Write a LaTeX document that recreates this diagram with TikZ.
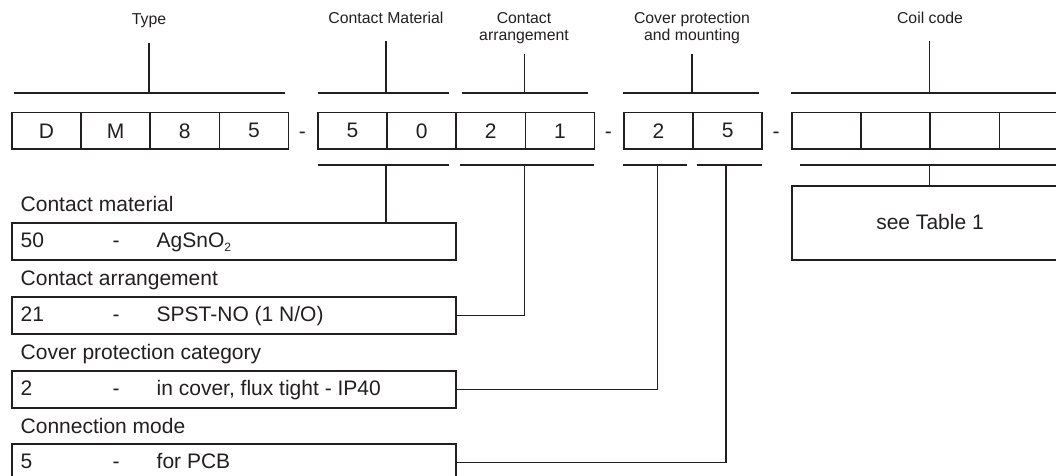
\documentclass[tikz,border=0pt]{standalone}
\usepackage{fontspec}
\setmainfont{Liberation Sans}
\definecolor{ink}{RGB}{35,31,32}
\begin{document}
\begin{tikzpicture}[x=1pt,y=-1pt,
  ln/.style={draw=ink, line width=1.6pt},
  cell/.style={ln, minimum width=69.2pt, minimum height=36.6pt, inner sep=0pt, anchor=north west, text=ink, font=\fontsize{21}{25}\selectfont},
  dsh/.style={anchor=base, inner sep=0pt, text=ink, font=\fontsize{21}{25}\selectfont},
  toplbl/.style={anchor=base, inner sep=0pt, align=center, text=ink, font=\fontsize{15.8}{17.5}\selectfont},
  lbl/.style={anchor=base west, inner sep=0pt, text=ink, font=\fontsize{21}{25}\selectfont},
  lbox/.style={ln, minimum width=444pt, minimum height=37pt, inner sep=0pt, anchor=north west},
  tbox/.style={ln, minimum width=280pt, minimum height=74pt, inner sep=0pt, anchor=north west},
]
\useasboundingbox (0,0) rectangle (1056,475);
\clip (0,0) rectangle (1056,475);
% ---- top code row
\node[cell] (c1) at (11,111.7) {D};
\node[cell] (c2) at (80.2,111.7) {M};
\node[cell] (c3) at (149.4,111.7) {8};
\node[cell] (c4) at (218.6,111.7) {5};
\node[dsh] (d1) at (302.4,138.3) {-};
\node[cell] (m1) at (317,111.7) {5};
\node[cell] (m2) at (386.2,111.7) {0};
\node[cell] (m3) at (455.4,111.7) {2};
\node[cell] (m4) at (524.6,111.7) {1};
\node[dsh] (d2) at (608.4,138.3) {-};
\node[cell] (p1) at (623,111.7) {2};
\node[cell] (p2) at (692.2,111.7) {5};
\node[dsh] (d3) at (776.2,138.3) {-};
\node[cell] (k1) at (791,111.7) {};
\node[cell] (k2) at (860.2,111.7) {};
\node[cell] (k3) at (929.4,111.7) {};
\node[cell] (k4) at (998.6,111.7) {};
% ---- top labels
\node[toplbl] (tType) at (149,24) {Type};
\node[toplbl] (tCM) at (386,23) {Contact Material};
\node[toplbl] (tCA) at (524,40.5) {Contact\\arrangement};
\node[toplbl] (tCP) at (692,40.5) {Cover protection\\and mounting};
\node[toplbl] (tCoil) at (930,23) {Coil code};
% ---- top brackets
\coordinate (sType) at (149,43);
\coordinate (sCM) at (386.2,41);
\coordinate (sCA) at (524.6,54);
\coordinate (sCP) at (692.2,54);
\coordinate (sCoil) at (929.4,41);
\draw[ln] (14,93) -- (285,93);
\draw[ln] (sType) -- (sType |- 0,93);
\draw[ln] (318,93) -- (449,93);
\draw[ln] (sCM) -- (sCM |- 0,93);
\draw[ln] (461.7,93) -- (588.3,93);
\draw[ln] (sCA) -- (sCA |- 0,93);
\draw[ln] (622.7,93) -- (759.3,93);
\draw[ln] (sCP) -- (sCP |- 0,93);
\draw[ln] (791,93) -- (1070,93);
\draw[ln] (sCoil) -- (sCoil |- 0,93);
% ---- bottom brackets
\coordinate (bCM) at (386.2,165);
\coordinate (bCA) at (524.6,165);
\coordinate (bP1) at (657.5,165);
\coordinate (bP2) at (726,165);
\coordinate (bCoil) at (929.4,165);
\draw[ln] (318,165) -- (449,165);
\draw[ln] (460,165) -- (594,165);
\draw[ln] (623,165) -- (687,165);
\draw[ln] (696.7,165) -- (761.7,165);
\draw[ln] (800,165) -- (1070,165);
% ---- left boxes
\node[lbox] (b1) at (11,222.3) {};
\node[lbox] (b2) at (11,296) {};
\node[lbox] (b3) at (11,370) {};
\node[lbox] (b4) at (11,443.3) {};
\node[lbl] (l1) at (20.5,211) {Contact material};
\node[lbl] (l2) at (20.5,285) {Contact arrangement};
\node[lbl] (l3) at (20.5,359) {Cover protection category};
\node[lbl] (l4) at (20.5,433) {Connection mode};
\node[lbl] (n1) at (20.5,247.3) {50};
\node[lbl] (h1) at (112.5,247.3) {-};
\node[lbl] (v1) at (156.5,247.3) {AgSnO{\fontsize{12}{12}\selectfont\raisebox{-4pt}{2}}};
\node[lbl] (n2) at (20.5,321) {21};
\node[lbl] (h2) at (112.5,321) {-};
\node[lbl] (v2) at (156.5,321) {SPST-NO (1 N/O)};
\node[lbl] (n3) at (20.5,395) {2};
\node[lbl] (h3) at (112.5,395) {-};
\node[lbl] (v3) at (156.5,395) {in cover, flux tight - IP40};
\node[lbl] (n4) at (20.5,468.3) {5};
\node[lbl] (h4) at (112.5,468.3) {-};
\node[lbl] (v4) at (156.5,468.3) {for PCB};
% ---- coil table box
\node[tbox] (tb) at (791,185) {};
\node[dsh] (tt) at (930,229.8) {see Table 1};
% ---- connectors
\draw[ln] (bCM) -- (bCM |- b1.north);
\draw[ln] (b2.east) -| (bCA);
\draw[ln] (b3.east) -| (bP1);
\draw[ln] (b4.east) -| (bP2);
\draw[ln] (bCoil) -- (bCoil |- tb.north);
\end{tikzpicture}
\end{document}
